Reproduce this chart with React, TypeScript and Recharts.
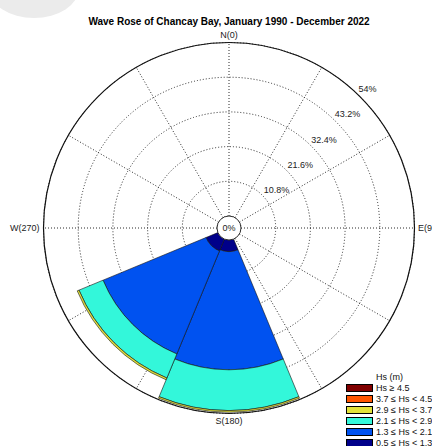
import React from 'react';
import {
  RadialBarChart,
  RadialBar,
  PolarGrid,
  PolarAngleAxis,
  PolarRadiusAxis,
  Legend,
  Sector,
} from 'recharts';

const FONT = '"Liberation Sans", Arial, Helvetica, sans-serif';
const CX = 229;
const CY = 228;
const INNER = 12;
const OUTER = 185.5;
const HALF_SECTOR = 22.5;

// 8 direction sectors (45 degrees each)
const directions = ['N(0)', 'NE(45)', 'E(90)', 'SE(135)', 'S(180)', 'SW(225)', 'W(270)', 'NW(315)'];
const cardinalLabels = ['N(0)', 'E(90)', 'S(180)', 'W(270)'];

// Frequency (%) of each Hs class per direction
const freqHs05to13 = [0, 0, 0, 0, 3.6, 4.0, 0, 0];
const freqHs13to21 = [0, 0, 0, 0, 36.8, 34.7, 0, 0];
const freqHs21to29 = [0, 0, 0, 0, 12.7, 8.1, 0, 0];
const freqHs29to37 = [0, 0, 0, 0, 0.5, 0.6, 0, 0];
const freqHs37to45 = [0, 0, 0, 0, 0, 0, 0, 0];
const freqHs45plus = [0, 0, 0, 0, 0, 0, 0, 0];

const hsClassKeys = ['c1', 'c2', 'c3', 'c4', 'c5', 'c6'];
const hsClassLabels = [
  '0.5 \u2264 Hs < 1.3',
  '1.3 \u2264 Hs < 2.1',
  '2.1 \u2264 Hs < 2.9',
  '2.9 \u2264 Hs < 3.7',
  '3.7 \u2264 Hs < 4.5',
  'Hs \u2265 4.5',
];
const hsClassColors = ['#00008a', '#0052f0', '#33f7da', '#e2e23a', '#ff5500', '#800000'];
const hsClassValues = [freqHs05to13, freqHs13to21, freqHs21to29, freqHs29to37, freqHs37to45, freqHs45plus];

const radiusTicks = [0, 10.8, 21.6, 32.4, 43.2, 54];
const gridAngles = [0, 30, 60, 90, 120, 150, 180, 210, 240, 270, 300, 330];

const data = directions.map((dir, i) => {
  const row: Record<string, any> = { dir };
  hsClassKeys.forEach((k, j) => {
    row[k] = hsClassValues[j][i];
  });
  return row;
});

const BarShape = (p: any) => {
  if (!(p.outerRadius - p.innerRadius > 0.05)) return <g />;
  return (
    <Sector
      cx={p.cx}
      cy={p.cy}
      innerRadius={p.innerRadius}
      outerRadius={p.outerRadius}
      startAngle={p.startAngle}
      endAngle={p.endAngle}
      fill={p.fill}
      stroke="#111"
      strokeWidth={0.6}
    />
  );
};

const AngleTick = (props: any) => {
  const { x, y, payload } = props;
  const v = payload?.value;
  if (!cardinalLabels.includes(v)) return <g />;
  // the axis puts ticks at the sector edge; move them to the sector centre
  const dx = x - CX;
  const dy = y - CY;
  const a = Math.atan2(-dy, dx) + (HALF_SECTOR * Math.PI) / 180;
  const px = CX + OUTER * Math.cos(a);
  const py = CY - OUTER * Math.sin(a);
  const c = Math.cos(a);
  const s = Math.sin(a);
  let anchor: 'start' | 'middle' | 'end' = 'middle';
  let tx = px;
  let ty = py;
  if (Math.abs(c) < 0.3) {
    ty = s > 0 ? py - 7.5 : py + 7.5;
  } else if (c < 0) {
    anchor = 'end';
    tx = px - 4;
  } else {
    anchor = 'start';
    tx = px + 3.5;
  }
  return (
    <text x={tx} y={ty} textAnchor={anchor} dominantBaseline="central" fontSize={9} fill="#222" fontFamily={FONT}>
      {v}
    </text>
  );
};

const RadiusTick = (props: any) => {
  const { x, y, payload } = props;
  const v = payload?.value;
  if (v === 0) {
    return (
      <g>
        <circle cx={CX} cy={CY} r={INNER} fill="#fff" stroke="#333" strokeWidth={1} />
        <text x={CX} y={CY} textAnchor="middle" dominantBaseline="central" fontSize={9} fill="#222" fontFamily={FONT}>
          0%
        </text>
      </g>
    );
  }
  return (
    <text x={x + 3} y={y - 3.5} textAnchor="start" dominantBaseline="central" fontSize={9} fill="#222" fontFamily={FONT}>
      {`${v}%`}
    </text>
  );
};

const LegendContent = () => {
  const order = [5, 4, 3, 2, 1, 0];
  return (
    <div style={{ fontFamily: FONT, fontSize: 9, color: '#111' }}>
      <div style={{ height: 11, lineHeight: '11px', paddingLeft: 30 }}>Hs (m)</div>
      {order.map((i) => (
        <div key={i} style={{ height: 11, display: 'flex', alignItems: 'center', whiteSpace: 'nowrap' }}>
          <div
            style={{
              width: 25,
              height: 6,
              border: '1px solid #000',
              background: hsClassColors[i],
              marginRight: 3,
              flex: 'none',
            }}
          />
          <span style={{ lineHeight: '11px' }}>{hsClassLabels[i]}</span>
        </div>
      ))}
    </div>
  );
};

export default function App() {
  return (
    <div style={{ position: 'absolute', left: 0, top: 0, width: 432, height: 446, overflow: 'hidden', background: '#fff' }}>
      <div
        style={{
          position: 'absolute',
          left: -11,
          top: -42,
          width: 90,
          height: 60,
          borderRadius: '50%',
          background: '#ebebeb',
        }}
      />
      <div
        style={{
          position: 'absolute',
          left: 79,
          width: 300,
          top: 16,
          textAlign: 'center',
          fontFamily: FONT,
          fontWeight: 'bold',
          fontSize: 10,
          lineHeight: '12px',
          color: '#000',
          whiteSpace: 'nowrap',
        }}
      >
        Wave Rose of Chancay Bay, January 1990 - December 2022
      </div>
      <div style={{ position: 'absolute', left: 0, top: 0 }}>
        <RadialBarChart
          width={432}
          height={446}
          cx={CX}
          cy={CY}
          innerRadius={INNER}
          outerRadius={OUTER}
          startAngle={67.5}
          endAngle={-292.5}
          data={data}
          layout="centric"
          barCategoryGap={0}
          barGap={0}
          margin={{ top: 0, right: 0, bottom: 0, left: 0 }}
        >
          <PolarAngleAxis
            type="category"
            dataKey="dir"
            tickSize={0}
            tickLine={false}
            axisLine={{ stroke: '#111', strokeWidth: 1.2 }}
            axisLineType="circle"
            tick={<AngleTick />}
          />
          <PolarRadiusAxis
            type="number"
            domain={[0, 54]}
            ticks={radiusTicks}
            angle={47}
            axisLine={false}
            tickLine={false}
            tick={<RadiusTick />}
            allowDataOverflow
          />
          {hsClassKeys.map((k, j) => (
            <RadialBar
              key={k}
              dataKey={k}
              stackId="hs"
              fill={hsClassColors[j]}
              isAnimationActive={false}
              shape={BarShape}
            />
          ))}
          <PolarGrid gridType="circle" polarAngles={gridAngles} stroke="#2a2a2a" strokeDasharray="1 2" strokeWidth={1} />
          <Legend
            content={<LegendContent />}
            wrapperStyle={{ position: 'absolute', left: 346, top: 371.5, width: 100 }}
          />
        </RadialBarChart>
      </div>
    </div>
  );
}
